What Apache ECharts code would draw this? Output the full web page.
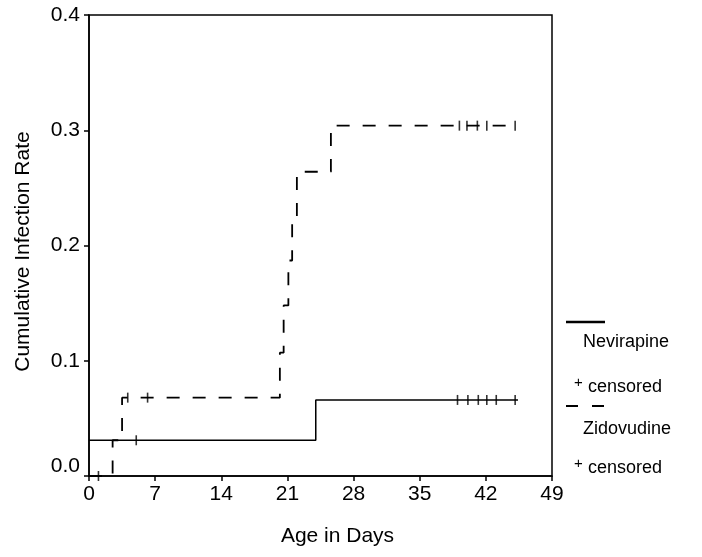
<!DOCTYPE html>
<html>
<head>
	<meta charset="utf-8" />
	<title>Cumulative Infection Rate</title>
	<script src="https://cdn.jsdelivr.net/npm/echarts@6/dist/echarts.min.js"></script>
	<style>
		body { margin: 0; background: #fff; }
		#chart { width: 702px; height: 557px; }
	</style>
</head>
<body>
<div id="chart"></div>
<script type="text/javascript">
	// step curves (day of change, rate after change)
	var nvpDays = [0, 24.0, 45.4];
	var nvpRate = [0.031, 0.066, 0.066];
	var zdvDays = [0, 2.5, 3.5, 20.2, 20.6, 21.1, 21.5, 22.0, 25.6, 45.4];
	var zdvRate = [0, 0.031, 0.068, 0.107, 0.148, 0.187, 0.225, 0.264, 0.304, 0.304];

	// censored marks
	var nvpCensorDays = [5.0, 39.0, 40.1, 41.2, 42.1, 43.1, 45.1];
	var nvpCensorRate = [0.031, 0.066, 0.066, 0.066, 0.066, 0.066, 0.066];
	var zdvCensorDays = [1.0, 4.1, 6.2, 39.2, 40.0, 41.1, 42.1, 45.1];
	var zdvCensorRate = [0, 0.068, 0.068, 0.304, 0.304, 0.304, 0.304, 0.304];

	var xTicks = [0, 7, 14, 21, 28, 35, 42, 49];
	var yTicks = [0, 0.1, 0.2, 0.3, 0.4];

	function pairs(xs, ys) {
		var out = [];
		for (var i = 0; i < xs.length; i++) out.push([xs[i], ys[i]]);
		return out;
	}

	var font = 'Liberation Sans, Arial, sans-serif';
	var myChart = echarts.init(document.getElementById('chart'));
	var censorMark = {
		type: 'scatter',
		symbol: 'rect',
		symbolSize: [1.6, 10],
		itemStyle: { color: '#000' },
		silent: true,
		z: 5
	};
	var option = {
		animation: false,
		backgroundColor: '#fff',
		textStyle: { fontFamily: font },
		grid: {
			left: 89, right: 150, top: 15, bottom: 81,
			show: true, borderColor: '#000', borderWidth: 1.5
		},
		xAxis: {
			type: 'value',
			min: xTicks[0], max: xTicks[xTicks.length - 1], interval: 7,
			name: 'Age in Days',
			nameLocation: 'middle', nameGap: 50,
			nameTextStyle: { fontSize: 21, color: '#000', fontFamily: font, padding: [0, 0, 0, 34] },
			axisLine: { lineStyle: { color: '#000', width: 1.5 } },
			axisTick: { show: true, length: 5, lineStyle: { color: '#000', width: 1.5 } },
			axisLabel: { fontSize: 21, color: '#000', margin: 8, fontFamily: font, showMaxLabel: true },
			splitLine: { show: false }
		},
		yAxis: {
			type: 'value',
			min: yTicks[0], max: yTicks[yTicks.length - 1], interval: 0.1,
			name: 'Cumulative Infection Rate',
			nameLocation: 'middle', nameGap: 55,
			nameTextStyle: { fontSize: 21, color: '#000', fontFamily: font, padding: [0, 12, 0, 0] },
			axisLine: { lineStyle: { color: '#000', width: 1.5 } },
			axisTick: { show: true, length: 5, lineStyle: { color: '#000', width: 1.5 } },
			axisLabel: {
				fontSize: 21, color: '#000', margin: 9, fontFamily: font,
				formatter: function (v) {
					return v === 0 ? '{z|0.0}' : v.toFixed(1);
				},
				rich: { z: { fontSize: 21, fontFamily: font, color: '#000', padding: [0, 0, 20, 0] } }
			},
			splitLine: { show: false }
		},
		series: [
			{
				name: 'Nevirapine',
				type: 'line',
				step: 'end',
				showSymbol: false,
				data: pairs(nvpDays, nvpRate),
				lineStyle: { color: '#000', width: 1.5 },
				z: 3
			},
			{
				name: 'Zidovudine',
				type: 'line',
				step: 'end',
				showSymbol: false,
				data: pairs(zdvDays, zdvRate),
				lineStyle: { color: '#000', width: 1.8, type: [13, 13] },
				z: 3
			},
			Object.assign({ name: 'Nevirapine censored', data: pairs(nvpCensorDays, nvpCensorRate) }, censorMark),
			Object.assign({ name: 'Zidovudine censored', data: pairs(zdvCensorDays, zdvCensorRate) }, censorMark)
		],
		graphic: [
			{ type: 'line', shape: { x1: 566, y1: 322, x2: 605, y2: 322 }, style: { stroke: '#000', lineWidth: 2.5 } },
			{ type: 'text', left: 583, top: 333, style: { text: 'Nevirapine', font: '18px ' + font, fill: '#000' } },
			{ type: 'text', left: 574, top: 375, style: { text: '+', font: '15px ' + font, fill: '#000' } },
			{ type: 'text', left: 588, top: 378, style: { text: 'censored', font: '18px ' + font, fill: '#000' } },
			{ type: 'line', shape: { x1: 566, y1: 406, x2: 605, y2: 406 }, style: { stroke: '#000', lineWidth: 1.8, lineDash: [12, 14] } },
			{ type: 'text', left: 583, top: 420, style: { text: 'Zidovudine', font: '18px ' + font, fill: '#000' } },
			{ type: 'text', left: 574, top: 456, style: { text: '+', font: '15px ' + font, fill: '#000' } },
			{ type: 'text', left: 588, top: 459, style: { text: 'censored', font: '18px ' + font, fill: '#000' } }
		]
	};
	myChart.setOption(option);
</script>
</body>
</html>
